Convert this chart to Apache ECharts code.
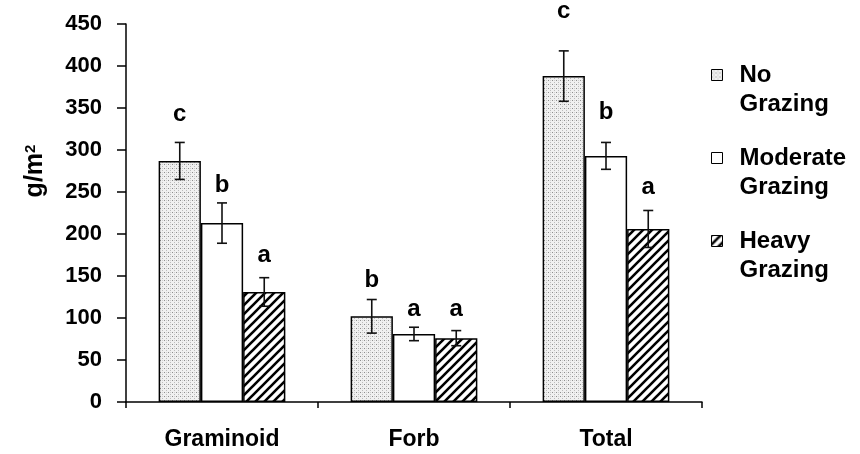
<!DOCTYPE html>
<html>
<head>
<meta charset="utf-8">
<script src="https://cdn.jsdelivr.net/npm/echarts@6/dist/echarts.min.js"></script>
<style>html,body{margin:0;padding:0;background:#fff}#chart{width:860px;height:454px}</style>
</head>
<body>
<div id="chart"></div>
<script>
// ---- data ----
var categories = ['Graminoid', 'Forb', 'Total'];
var seriesNames = ['No\nGrazing', 'Moderate\nGrazing', 'Heavy\nGrazing'];
var noGrazing = [287, 102, 388];
var moderateGrazing = [213, 81, 293];
var heavyGrazing = [131, 76, 206];
var errNo = [22, 20, 30];
var errModerate = [24, 8, 16];
var errHeavy = [17, 9, 22];
var lettersNo = ['c', 'b', 'c'];
var lettersModerate = ['b', 'a', 'b'];
var lettersHeavy = ['a', 'a', 'a'];
var letterHeightNo = [342, 145, 465];
var letterHeightModerate = [258, 110, 345];
var letterHeightHeavy = [175, 110, 255];
var yTicks = {min: 0, max: 450, interval: 50};

// ---- patterns ----
function dotPattern() {
  var c = document.createElement('canvas');
  c.width = 4; c.height = 4;
  var g = c.getContext('2d');
  g.fillStyle = '#f0f0f0'; g.fillRect(0, 0, 4, 4);
  g.fillStyle = '#8e8e8e'; g.fillRect(0, 0, 1, 1);
  g.fillStyle = '#bcbcbc'; g.fillRect(2, 2, 1, 1);
  g.fillStyle = '#d0d0d0'; g.fillRect(2, 0, 1, 1);
  return c;
}
function hatchPattern() {
  var s = 9;
  var c = document.createElement('canvas');
  c.width = s; c.height = s;
  var g = c.getContext('2d');
  g.fillStyle = '#fff'; g.fillRect(0, 0, s, s);
  g.strokeStyle = '#000'; g.lineWidth = 2.6;
  g.beginPath();
  g.moveTo(-s, s); g.lineTo(s, -s);
  g.moveTo(0, 2 * s); g.lineTo(2 * s, 0);
  g.moveTo(0, s); g.lineTo(s, 0);
  g.stroke();
  return c;
}
var fills = [
  {image: dotPattern(), repeat: 'repeat'},
  '#ffffff',
  {image: hatchPattern(), repeat: 'repeat'}
];

var values = [noGrazing, moderateGrazing, heavyGrazing];
var errs = [errNo, errModerate, errHeavy];
var letters = [lettersNo, lettersModerate, lettersHeavy];
var letterHeights = [letterHeightNo, letterHeightModerate, letterHeightHeavy];

var FONT = 'Liberation Sans, Arial, sans-serif';
var catGap = 0.34;
// square aligned with the first text line inside an 11x58 item box
var legendIcon = 'path://M0,9L11,9L11,20L0,20Z M0,0 M11,58';

var series = [];
for (var s = 0; s < 3; s++) {
  series.push({
    name: seriesNames[s],
    type: 'bar',
    data: values[s],
    barGap: '0%',
    barCategoryGap: (catGap * 100) + '%',
    itemStyle: {color: fills[s], borderColor: '#000', borderWidth: 1.5},
    z: 2
  });
}
// error bars + significance letters
var errData = [];
for (var s2 = 0; s2 < 3; s2++) {
  for (var i = 0; i < categories.length; i++) {
    errData.push([i, values[s2][i] - errs[s2][i], values[s2][i] + errs[s2][i], s2, letterHeights[s2][i], letters[s2][i]]);
  }
}
series.push({
  type: 'custom',
  name: 'err',
  silent: true,
  clip: false,
  z: 5,
  data: errData,
  encode: {x: 0, y: [1, 2]},
  renderItem: function (params, api) {
    var ci = api.value(0), lo = api.value(1), hi = api.value(2), si = api.value(3), lh = api.value(4);
    var band = api.size([1, 0])[0];
    var bw = band * (1 - catGap) / 3;
    var c = api.coord([ci, 0]);
    var x = c[0] + (si - 1) * bw;
    var yLo = api.coord([ci, lo])[1];
    var yHi = api.coord([ci, hi])[1];
    var yL = api.coord([ci, lh])[1];
    var cap = 5;
    var st = {stroke: '#111', lineWidth: 1.6};
    return {
      type: 'group',
      children: [
        {type: 'line', shape: {x1: x, y1: yLo, x2: x, y2: yHi}, style: st},
        {type: 'line', shape: {x1: x - cap, y1: yLo, x2: x + cap, y2: yLo}, style: st},
        {type: 'line', shape: {x1: x - cap, y1: yHi, x2: x + cap, y2: yHi}, style: st},
        {type: 'text', x: x, y: yL, style: {text: errData[params.dataIndex][5], fill: '#000', font: 'bold 24px ' + FONT, align: 'center', verticalAlign: 'middle'}}
      ]
    };
  }
});

var chart = echarts.init(document.getElementById('chart'), null, {renderer: 'canvas'});
chart.setOption({
  backgroundColor: '#fff',
  animation: false,
  grid: {left: 126, right: 158, top: 24, bottom: 52, containLabel: false},
  legend: {
    data: seriesNames,
    orient: 'vertical',
    left: 711,
    top: 60,
    padding: 0,
    itemGap: 24,
    itemWidth: 11,
    itemHeight: 58,
    icon: legendIcon,
    itemStyle: {borderColor: '#000', borderWidth: 1},
    textStyle: {fontFamily: FONT, fontWeight: 'bold', fontSize: 24, color: '#000', lineHeight: 29, padding: [0, 0, 0, 12]},
    selectedMode: false
  },
  xAxis: {
    type: 'category',
    data: categories,
    axisLine: {lineStyle: {color: '#000', width: 1.5}},
    axisTick: {show: true, inside: false, length: 6, lineStyle: {color: '#000', width: 1.5}},
    axisLabel: {color: '#000', fontFamily: FONT, fontWeight: 'bold', fontSize: 23, margin: 26},
    splitLine: {show: false}
  },
  yAxis: {
    type: 'value',
    min: yTicks.min,
    max: yTicks.max,
    interval: yTicks.interval,
    name: 'g/m{sup|2}',
    nameLocation: 'middle',
    nameRotate: 90,
    nameGap: 78,
    nameTextStyle: {color: '#000', fontFamily: FONT, fontWeight: 'bold', fontSize: 25, padding: [0, 0, 0, 84],
      rich: {sup: {fontSize: 15, fontWeight: 'bold', fontFamily: FONT, color: '#000', verticalAlign: 'top', padding: [0, 0, 10, 0]}}},
    axisLine: {show: true, lineStyle: {color: '#000', width: 1.5}},
    axisTick: {show: true, inside: false, length: 9, lineStyle: {color: '#000', width: 1.5}},
    axisLabel: {color: '#000', fontFamily: FONT, fontWeight: 'bold', fontSize: 22, margin: 24},
    splitLine: {show: false}
  },
  series: series
});
</script>
</body>
</html>
